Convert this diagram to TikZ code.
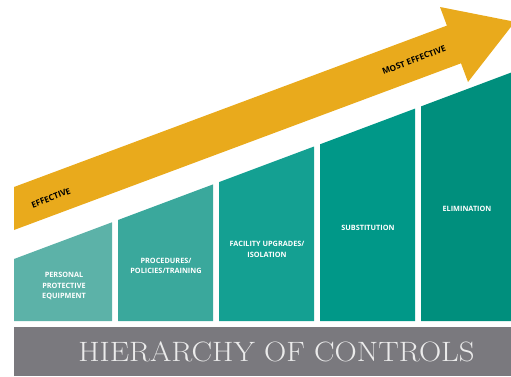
\documentclass[tikz,border=0pt]{standalone}
\usepackage{fontspec}
\newfontfamily\labelfont{Open Sans}
\definecolor{arrowyellow}{HTML}{E9AA1C}
\definecolor{tealA}{HTML}{5CB2A8}
\definecolor{tealB}{HTML}{3AA89C}
\definecolor{tealC}{HTML}{14A092}
\definecolor{tealD}{HTML}{009888}
\definecolor{tealE}{HTML}{008F7D}
\definecolor{bandgray}{HTML}{7A797E}

\begin{document}
\begin{tikzpicture}[x=1pt, y=-1pt]
                \tikzstyle{bar} = [fill={#1}]
                \tikzstyle{barlabel} = [text=white, align=center, inner sep=0pt, font=\labelfont\bfseries\fontsize{7.3}{10.5}\selectfont]
                \tikzstyle{arrowlabel} = [text=black, inner sep=0pt, rotate=21, font=\labelfont\bfseries\fontsize{8.3}{9}\selectfont]
                \useasboundingbox (0, 0) rectangle (511, 376);
                % arrow
                \fill[arrowyellow] (14, 187) -- (446.9, 25.6) -- (440, 7) -- (514.9, 21.8)
                    -- (468, 82) -- (461, 63.3) -- (14, 230) -- cycle;
                \node[arrowlabel] (effective) at (51, 198) {EFFECTIVE};
                \node[arrowlabel] (mosteffective) at (414, 60) {MOST EFFECTIVE};
                % bars
                \fill[bar=tealA] (14, 321) -- (14, 259) -- (112, 222.3) -- (112, 321) -- cycle;
                \fill[bar=tealB] (118, 321) -- (118, 220) -- (213, 184.4) -- (213, 321) -- cycle;
                \fill[bar=tealC] (219, 321) -- (219, 182.1) -- (314, 146.5) -- (314, 321) -- cycle;
                \fill[bar=tealD] (320, 321) -- (320, 144.3) -- (415, 108.6) -- (415, 321) -- cycle;
                \fill[bar=tealE] (421, 321) -- (421, 106.4) -- (511, 72.6) -- (511, 321) -- cycle;
                \node[barlabel] (ppe) at (64, 286) {PERSONAL\\PROTECTIVE\\EQUIPMENT};
                \node[barlabel] (procedures) at (166, 266) {PROCEDURES/\\POLICIES/TRAINING};
                \node[barlabel] (facility) at (267, 249.5) {FACILITY UPGRADES/\\ISOLATION};
                \node[barlabel] (substitution) at (368, 228) {SUBSTITUTION};
                \node[barlabel] (elimination) at (467, 209) {ELIMINATION};
                % band
                \fill[bandgray] (14, 327) rectangle (511, 376);
                \node[text={white!92!black}, inner sep=0pt, xscale=1.1, font=\fontsize{28}{30}\selectfont] (title) at (276.5, 352) {HIERARCHY OF CONTROLS};
            \end{tikzpicture}
\end{document}
